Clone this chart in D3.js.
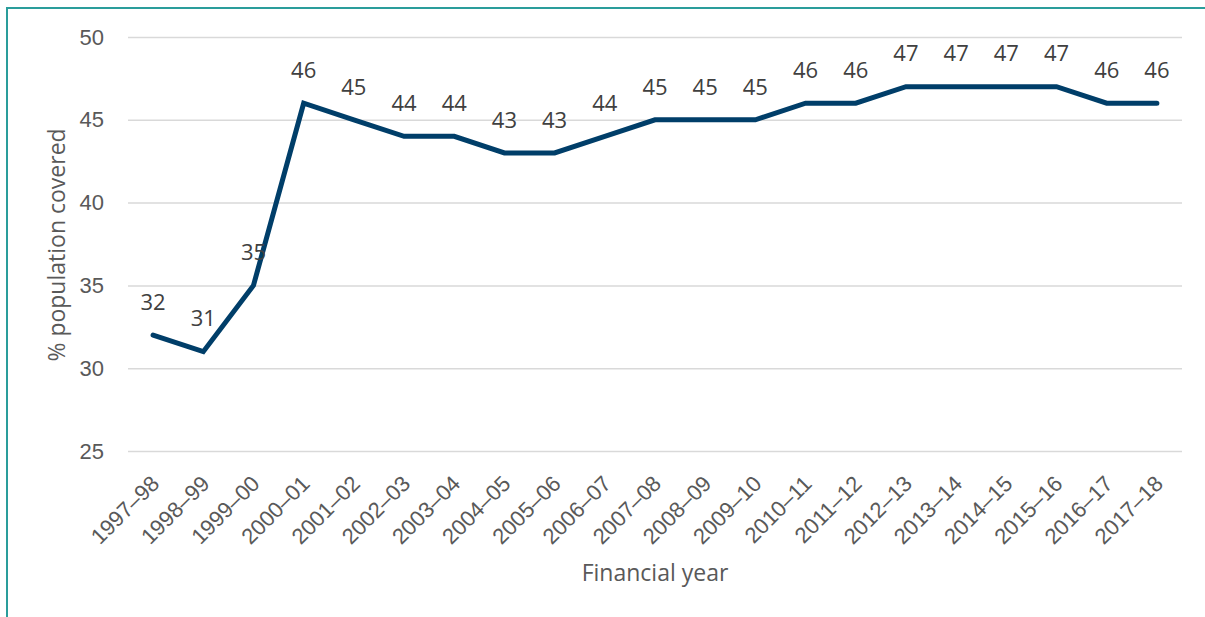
<!DOCTYPE html>
<html>
<head>
<meta charset="utf-8">
<script src="https://cdn.jsdelivr.net/npm/d3@7"></script>
<style>
  body { margin: 0; background: #fff; }
  svg { display: block; font-family: 'Open Sans', 'Noto Sans', sans-serif; }
</style>
</head>
<body>
<div id="chart"></div>
<script>
'use strict'

const years = ['1997–98', '1998–99', '1999–00', '2000–01', '2001–02', '2002–03', '2003–04',
  '2004–05', '2005–06', '2006–07', '2007–08', '2008–09', '2009–10', '2010–11', '2011–12',
  '2012–13', '2013–14', '2014–15', '2015–16', '2016–17', '2017–18']
const covered = [32, 31, 35, 46, 45, 44, 44, 43, 43, 44, 45, 45, 45, 46, 46, 47, 47, 47, 47, 46, 46]
const yTicks = [25, 30, 35, 40, 45, 50]

const width = 1205,
  height = 617,
  margin = { top: 37, right: 23, bottom: 166, left: 128 }

const svg = d3.select('#chart').append('svg')
  .attr('width', width)
  .attr('height', height)

// frame (only top and left edges show)
svg.append('path')
  .attr('d', `M7,${height} V8 H${width}`)
  .attr('fill', 'none')
  .attr('stroke', '#2a9d9b')
  .attr('stroke-width', 2)

const x = d3.scalePoint()
  .domain(years)
  .range([margin.left, width - margin.right])
  .padding(0.5)

const y = d3.scaleLinear()
  .domain([25, 50])
  .range([height - margin.bottom, margin.top])

// gridlines + y labels
const gY = svg.append('g')
  .attr('transform', `translate(${margin.left},0)`)
  .call(d3.axisLeft(y).tickValues(yTicks).tickSize(-(width - margin.left - margin.right)).tickPadding(24))

gY.select('.domain').remove()
gY.selectAll('.tick line')
  .attr('stroke', '#d9d9d9')
  .attr('stroke-width', 1.5)
gY.selectAll('.tick text')
  .attr('fill', '#595959')
  .style('font-size', '22px')

// x labels
const gX = svg.append('g')
  .attr('transform', `translate(0,${height - margin.bottom})`)
  .call(d3.axisBottom(x).tickSize(0).tickPadding(0))

gX.select('.domain').remove()
gX.selectAll('.tick text')
  .attr('fill', '#595959')
  .style('font-size', '22px')
  .attr('text-anchor', 'end')
  .attr('dy', 0)
  .attr('transform', 'translate(7,34) rotate(-45)')

const line = d3.line()
  .x((d, i) => x(years[i]))
  .y(d => y(d))

svg.append('path')
  .datum(covered)
  .attr('d', line)
  .attr('fill', 'none')
  .attr('stroke', '#003e69')
  .attr('stroke-width', 5)
  .attr('stroke-linecap', 'round')

svg.append('g')
  .selectAll('text')
  .data(covered)
  .join('text')
  .attr('x', (d, i) => x(years[i]))
  .attr('y', d => y(d) - 33)
  .attr('dy', '0.35em')
  .attr('text-anchor', 'middle')
  .attr('fill', '#404040')
  .style('font-size', '22px')
  .text(d => d)

svg.append('text')
  .attr('x', 655)
  .attr('y', 573)
  .attr('dy', '0.35em')
  .attr('text-anchor', 'middle')
  .attr('fill', '#595959')
  .style('font-size', '23px')
  .text('Financial year')

svg.append('text')
  .attr('transform', 'translate(57,245) rotate(-90)')
  .attr('dy', '0.35em')
  .attr('text-anchor', 'middle')
  .attr('fill', '#595959')
  .style('font-size', '23px')
  .text('% population covered')
</script>
</body>
</html>
